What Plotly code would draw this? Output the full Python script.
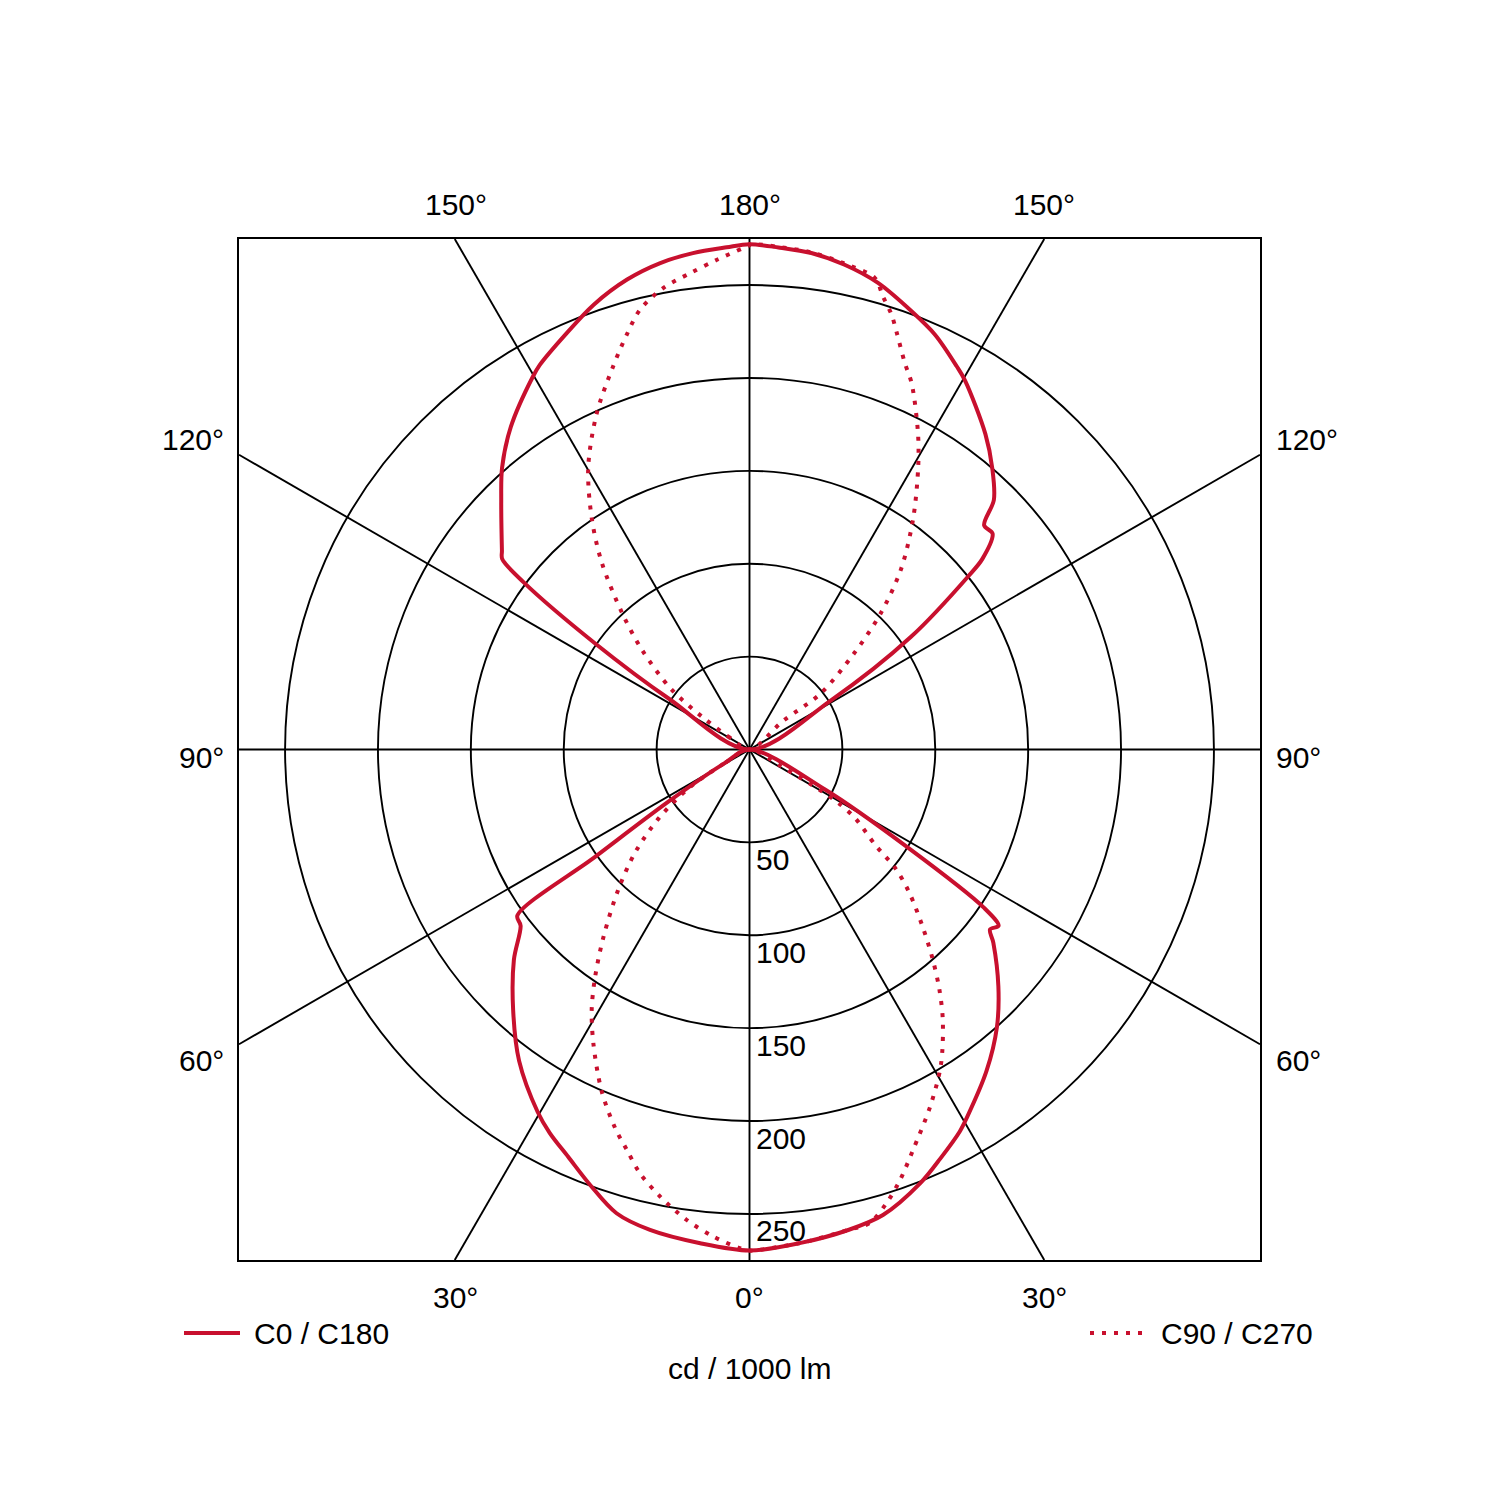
import numpy as np
import plotly.graph_objects as go

# ---------------- data (cd / 1000 lm), gamma in degrees from nadir ----------------
# C0 half-plane (right side, solid)
c0_gamma = [0, 5.8, 11.7, 16, 21.5, 25, 28.8, 30.5, 36.4, 41.7, 46.4, 51.6, 53.2, 54.7, 56, 58.2, 62.1, 64, 90,
            117, 121.1, 124.9, 128.4, 129.3, 131.6, 133.7, 135.6, 139.2, 143.2, 149.7, 151.6, 155.9, 159.7,
            164.6, 168.9, 172.9, 176.7, 180]
c0_r = [269.7, 267.1, 264, 260.7, 250.9, 243, 234.8, 230.3, 215, 200.2, 185, 167.5, 161.7, 164.3, 152, 101, 46, 0, 0,
        0, 51, 106, 150.6, 162, 175, 174.7, 188, 200, 212, 230, 234.5, 244.6, 251.5,
        260.5, 265.9, 269.3, 270.7, 272]

# C180 half-plane (left side, solid)
c180_gamma = [0, 5.7, 11.7, 16, 20.1, 24, 27.5, 30.3, 36.5, 42.2, 48.25, 52.4, 54.4, 55.2, 57.3, 61, 63, 90,
              117, 122.2, 124.5, 126.5, 127.6, 128.8, 135, 138.7, 143.5, 149.8, 151.4, 156.3, 160.7,
              165.4, 169.6, 173.5, 177.4, 180]
c180_r = [269.7, 267.1, 264.1, 259.7, 249.6, 240, 232.8, 226, 208.5, 189.4, 170, 155.5, 153.7, 101, 51, 16, 0, 0,
          0, 51, 101, 151, 168, 171, 189, 201.8, 216, 232, 235.8, 244.8, 253.7,
          261.4, 266.2, 268.9, 270.6, 272]

# C90 half-plane (right side, dotted)
c90_gamma = [0, 5.8, 11.7, 14.2, 16.8, 19.3, 22.2, 27, 31.3, 35.5, 38.3, 41.1, 44.4, 48.2, 50.8, 52.8, 57, 59, 60, 62, 64, 90,
             116, 130.4, 128.2, 132.6, 136.1, 140, 144.7, 149.1, 151.9, 156.1, 158.1, 160.5, 161.9, 163.6, 165.1,
             168.9, 172.9, 176.7, 180]
c90_r = [269.7, 267.1, 264, 263, 255.1, 245.4, 232.9, 214.8, 198.4, 179.2, 165, 150.1, 133, 115.2, 101.5, 85, 67.8, 55.7, 44.7, 19, 0, 0,
         0, 23.8, 48.5, 76.5, 102, 127, 152.5, 176.8, 192.6, 215.5, 224.2, 237.7, 246.2, 254.3, 262.6,
         266.5, 269.6, 271, 272]

# C270 half-plane (left side, dotted)
c270_gamma = [0, 1.1, 4.25, 7.6, 11.3, 14.5, 17, 19.5, 23.4, 27.9, 31.2, 34.2, 38, 43.2, 48.1, 52.9, 57.6, 61, 63, 90,
              118, 121, 124.5, 127.7, 132.8, 137, 141.7, 145.7, 150.2, 155.5, 160.4, 163.5, 166, 169.4,
              172.9, 176.2, 179.3, 180]
c270_r = [269.5, 268.5, 262.9, 255.5, 245.4, 235.6, 225.5, 216.4, 200.4, 179.5, 164, 147.8, 127.5, 103, 82.4, 61, 38.3, 16, 0, 0,
          0, 12.3, 30.4, 53.5, 78.8, 100.6, 128.4, 150.7, 174.7, 198.5, 218.9, 232.8, 243.9, 252.7,
          258.4, 264.2, 270, 271.5]

ring_values = [50, 100, 150, 200, 250]
spoke_angles = [0, 30, 60, 90, 120, 150]
angle_labels_top = ["150°", "180°", "150°"]
angle_labels_bottom = ["30°", "0°", "30°"]
angle_labels_side = ["120°", "90°", "60°"]
legend_labels = ["C0 / C180", "C90 / C270"]
unit_label = "cd / 1000 lm"

# ---------------- styling / geometry ----------------
RED = "#c8102e"
FONT = "Liberation Sans, Arial, sans-serif"
FS = 30
OFF = 8          # page body margin of the browser
W = H = 1484
L = T = 239 - OFF  # plot area left/top in figure coordinates
PW = 1021
R = 274.8  # half range of axes (cd)


def side(gamma, r, sign, lower):
    g = np.asarray(gamma, float)
    rr = np.asarray(r, float)
    m = g < 90 if lower else g > 90
    gr = np.radians(g[m])
    return list(sign * rr[m] * np.sin(gr)), list(-rr[m] * np.cos(gr))


def lobe(right_g, right_r, left_g, left_r, lower):
    """one closed lobe: left half-plane from the centre outwards, then right half-plane back to centre"""
    lx, ly = side(left_g, left_r, -1, lower)
    rx, ry = side(right_g, right_r, 1, lower)
    if lower:
        lx, ly = lx[::-1], ly[::-1]
    else:
        rx, ry = rx[::-1], ry[::-1]
    xs, ys = lx + rx, ly + ry
    ox, oy = [xs[0]], [ys[0]]
    for a, b in zip(xs[1:], ys[1:]):
        if abs(a - ox[-1]) > 1e-6 or abs(b - oy[-1]) > 1e-6:
            ox.append(a)
            oy.append(b)
    return ox, oy


fig = go.Figure()
for lower in (True, False):
    sx, sy = lobe(c0_gamma, c0_r, c180_gamma, c180_r, lower)
    fig.add_trace(go.Scatter(x=sx, y=sy, mode="lines",
                             line=dict(color=RED, width=4, shape="spline", smoothing=0.9),
                             name=legend_labels[0], showlegend=False, hoverinfo="skip"))
for lower in (True, False):
    dx, dy = lobe(c90_gamma, c90_r, c270_gamma, c270_r, lower)
    fig.add_trace(go.Scatter(x=dx, y=dy, mode="lines",
                             line=dict(color=RED, width=4, dash="4px,8px", shape="spline", smoothing=0.9),
                             name=legend_labels[1], showlegend=False, hoverinfo="skip"))

shapes = []
for rv in ring_values:
    shapes.append(dict(type="circle", xref="x", yref="y", x0=-rv, x1=rv, y0=-rv, y1=rv,
                       line=dict(color="black", width=1.9), layer="below"))
for a in spoke_angles:
    s, c = np.sin(np.radians(a)), np.cos(np.radians(a))
    t = min(R / abs(s) if abs(s) > 1e-9 else 1e9, R / abs(c) if abs(c) > 1e-9 else 1e9)
    shapes.append(dict(type="line", xref="x", yref="y", x0=-t * s, y0=t * c, x1=t * s, y1=-t * c,
                       line=dict(color="black", width=1.9), layer="below"))


def px(xp):
    return (xp - OFF - L) / PW


def py(yp):
    return (T + PW - (yp - OFF)) / PW


# legend samples
shapes.append(dict(type="line", xref="paper", yref="paper", x0=px(184), x1=px(240), y0=py(1333), y1=py(1333),
                   line=dict(color=RED, width=4)))
shapes.append(dict(type="line", xref="paper", yref="paper", x0=px(1090), x1=px(1146), y0=py(1333), y1=py(1333),
                   line=dict(color=RED, width=4, dash="4px,8px")))

ann = []


def text(t, x, y, xanchor="center"):
    ann.append(dict(text=t, xref="paper", yref="paper", x=px(x), y=py(y), xanchor=xanchor,
                    yanchor="middle", showarrow=False, font=dict(family=FONT, size=FS, color="black")))


for t, xx in zip(angle_labels_top, [456, 750, 1044]):
    text(t, xx, 204)
for t, xx in zip(angle_labels_bottom, [455, 749, 1044]):
    text(t, xx, 1297)
for t, yy in zip(angle_labels_side, [439, 757, 1060]):
    text(t, 226, yy, "right")
    text(t, 1274, yy, "left")
for rv in ring_values:
    ann.append(dict(text=str(rv), xref="x", yref="y", x=2.2, y=-rv, xanchor="left", yanchor="middle",
                    yshift=-17, showarrow=False, font=dict(family=FONT, size=FS, color="black")))
text(legend_labels[0], 252, 1333, "left")
text(legend_labels[1], 1159, 1333, "left")
text(unit_label, 749, 1368)

axis = dict(range=[-R, R], showgrid=False, zeroline=False, showticklabels=False, ticks="",
            showline=True, mirror=True, linecolor="black", linewidth=2.4, fixedrange=True)
fig.update_layout(width=W, height=H, margin=dict(l=L, r=W - L - PW, t=T, b=H - T - PW),
                  paper_bgcolor="white", plot_bgcolor="white",
                  xaxis=axis, yaxis=dict(axis, scaleanchor="x", scaleratio=1),
                  shapes=shapes, annotations=ann, showlegend=False)

fig.write_html("out.html")
